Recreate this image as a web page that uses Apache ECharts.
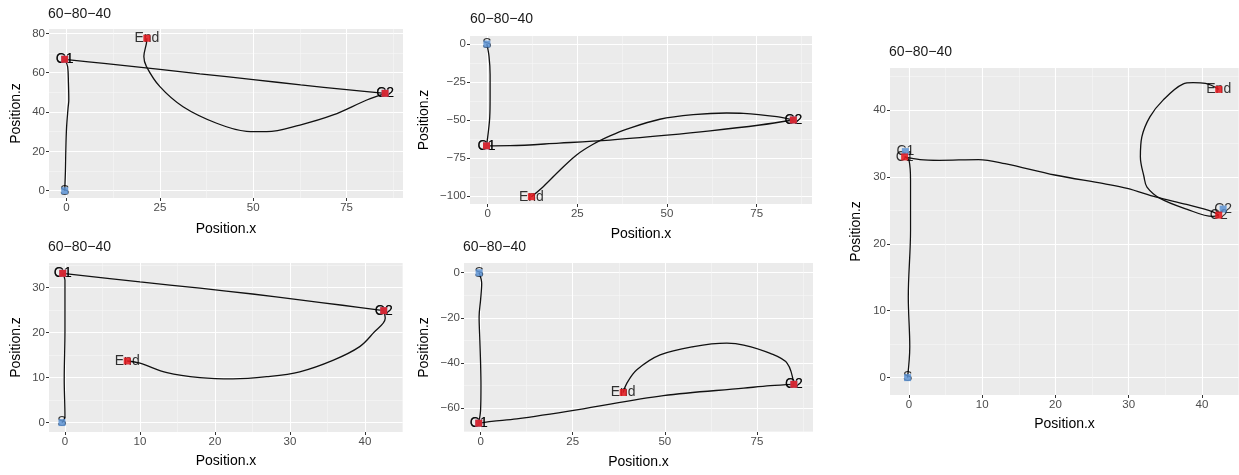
<!DOCTYPE html>
<html>
<head>
<meta charset="utf-8">
<script src="https://cdn.jsdelivr.net/npm/echarts@6/dist/echarts.min.js"></script>
<style>
  html, body { margin: 0; padding: 0; background: #ffffff; }
  #chart { width: 1239px; height: 475px; }
</style>
</head>
<body>
<div id="chart"></div>
<script>
// Trajectories in the x/z plane: S -> C1 -> C2 -> End, one path per run.
const runTitle = '60−80−40';

// Run 1
const path1 = [
  [[-0.5, 0], [-0.3, 10], [-0.2, 20], [0, 32], [0.4, 42], [0.6, 46], [0.5, 55], [0.3, 63], [-0.5, 66.8]],
  [[-0.5, 66.8], [10, 64.7], [25, 61.7], [35.7, 59.4], [50, 56.5], [62.7, 53.8], [75, 51.4], [85.3, 49.5]],
  [[85.3, 49.5], [80.4, 46.1], [71.4, 38.5], [62.5, 33.4], [53.6, 30], [48.2, 30.2], [40.2, 34.3], [31.2, 42.7], [25, 52.9], [21.4, 63.1], [20.7, 68.2], [21.4, 75], [21.5, 77.5]]
];
const targets1 = [['S', -0.5, 0], ['C1', -0.5, 66.8], ['C2', 85.3, 49.5]];
const reached1 = [['C1', -0.5, 66.8], ['C2', 85.3, 49.5], ['End', 21.5, 77.5]];
const xTicks1 = [0, 25, 50, 75];
const zTicks1 = [0, 20, 40, 60, 80];

// Run 2
const path2 = [
  [[-0.2, 0], [0.4, -8], [0.7, -20], [0.7, -35], [0.6, -48], [0.2, -58], [-0.3, -67]],
  [[-0.3, -67], [6.2, -66.9], [20, -65.2], [34.1, -63.2], [50, -60], [62, -57.2], [75.9, -53.3], [85.2, -50]],
  [[85.2, -50], [80.6, -47.8], [71.3, -45.6], [66.6, -45.4], [57.3, -46.5], [48, -49.5], [38.8, -56], [34.1, -60.5], [29.4, -66], [24.8, -73], [20.2, -82.9], [15.5, -93.9], [12.2, -100.5]]
];
const targets2 = [['S', -0.2, 0], ['C1', -0.3, -67], ['C2', 85.2, -50]];
const reached2 = [['C1', -0.3, -67], ['C2', 85.2, -50], ['End', 12.2, -100.5]];
const xTicks2 = [0, 25, 50, 75];
const zTicks2 = [0, -25, -50, -75, -100];

// Run 3
const path3 = [
  [[-0.4, 0], [0, 1.3], [-0.1, 9.5], [0, 20.6], [0, 31.7], [-0.3, 33.2]],
  [[-0.3, 33.2], [10, 31.3], [18, 29.9], [25, 28.6], [31.3, 27.3], [37, 26.1], [42.5, 24.9]],
  [[42.5, 24.9], [42.7, 23.2], [41.1, 19.9], [39.3, 16.9], [35.8, 13.9], [31.3, 11.3], [26.9, 10.2], [22.4, 9.7], [18, 10], [13.6, 11.1], [10, 13.2], [8.3, 13.7]]
];
const targets3 = [['S', -0.4, 0], ['C1', -0.3, 33.2], ['C2', 42.5, 24.9]];
const reached3 = [['C1', -0.3, 33.2], ['C2', 42.5, 24.9], ['End', 8.3, 13.7]];
const xTicks3 = [0, 10, 20, 30, 40];
const zTicks3 = [0, 10, 20, 30];

// Run 4
const path4 = [
  [[-0.4, 0], [0.3, -4.7], [0, -12], [-0.4, -19.5], [-0.2, -30], [0, -40.1], [0.1, -50], [0, -60.7], [-0.5, -66.6]],
  [[-0.5, -66.6], [3, -65.8], [9.8, -64.7], [26.1, -60.7], [49.6, -54.4], [71.4, -51.1], [78.6, -50], [85, -49.4]],
  [[85, -49.4], [83.2, -40.1], [78.6, -35.7], [71.4, -32], [66.8, -31.2], [57.8, -32.7], [48.7, -36.4], [42.4, -43], [39.7, -48.9], [38.7, -53]]
];
const targets4 = [['S', -0.4, 0], ['C1', -0.5, -66.6], ['C2', 85, -49.4]];
const reached4 = [['C1', -0.5, -66.6], ['C2', 85, -49.4], ['End', 38.7, -53]];
const xTicks4 = [0, 25, 50, 75];
const zTicks4 = [0, -20, -40, -60];

// Run 5
const path5 = [
  [[-0.2, 0], [0.1, 4.6], [-0.1, 12.1], [0.2, 22], [0.2, 29.5], [0, 32.5], [-0.6, 33]],
  [[-0.6, 33], [1.5, 32.6], [4.1, 32.5], [9.5, 32.6], [13.1, 32], [19.9, 30.3], [26.6, 29], [29.8, 28.3], [33.8, 27], [37.9, 25.9], [41.5, 24.8], [42.3, 24.3]],
  [[42.3, 24.3], [41.5, 24.1], [37.9, 25.2], [34.3, 26.8], [32.5, 28.5], [32.1, 30], [31.6, 33], [31.8, 36], [32.9, 39], [34.7, 41.5], [37.4, 43.9], [38.8, 44.1], [40.5, 44], [42.3, 43.1]]
];
const targets5 = [['S', -0.2, 0], ['C1', -0.5, 33.8], ['C2', 42.9, 25.2]];
const reached5 = [['C1', -0.6, 33], ['C2', 42.3, 24.3], ['End', 42.3, 43.1]];
const xTicks5 = [0, 10, 20, 30, 40];
const zTicks5 = [0, 10, 20, 30, 40];

// Panel placement and axis extents
const panels = [
  { path: path1, targets: targets1, reached: reached1, xTicks: xTicks1, zTicks: zTicks1,
    xRange: [-4.7, 90.1], zRange: [-3.7, 82.2], box: { left: 49, top: 29, width: 354, height: 169 },
    titleAt: [48, 7], xGap: 24, zGap: 26 },
  { path: path2, targets: targets2, reached: reached2, xTicks: xTicks2, zTicks: zTicks2,
    xRange: [-4.9, 90.4], zRange: [-105.3, 5.3], box: { left: 470, top: 36, width: 342, height: 168 },
    titleAt: [470, 12], xGap: 23, zGap: 39 },
  { path: path3, targets: targets3, reached: reached3, xTicks: xTicks3, zTicks: zTicks3,
    xRange: [-2.13, 45.07], zRange: [-2.1, 35.5], box: { left: 49, top: 263, width: 354, height: 169 },
    titleAt: [48, 240], xGap: 22, zGap: 26 },
  { path: path4, targets: targets4, reached: reached4, xTicks: xTicks4, zTicks: zTicks4,
    xRange: [-4.5, 90.2], zRange: [-70.5, 4.3], box: { left: 464, top: 263, width: 349, height: 169 },
    titleAt: [463, 240], xGap: 23, zGap: 33 },
  { path: path5, targets: targets5, reached: reached5, xTicks: xTicks5, zTicks: zTicks5,
    xRange: [-2.6, 45.07], zRange: [-2.6, 46.3], box: { left: 890, top: 68, width: 353, height: 327 },
    titleAt: [889, 45], xGap: 22, zGap: 27 }
];

const FONT = 'Liberation Sans, Arial, sans-serif';
const RED = '#e3191f';
const BLUE = '#5d93d3';

// Half-step positions between major ticks, inside the visible range
function minorOf(ticks, range) {
  const sorted = ticks.slice().sort((a, b) => a - b);
  const step = sorted[1] - sorted[0];
  const out = [];
  for (let v = sorted[0] - step * 4 + step / 2; v <= range[1]; v += step) {
    if (v >= range[0]) out.push(v);
  }
  return out;
}

const fmt = v => String(v).replace('-', '−');

const grid = [], xAxis = [], yAxis = [], title = [], series = [];

panels.forEach((p, i) => {
  grid.push(Object.assign({ show: true, backgroundColor: '#ebebeb', borderWidth: 0 }, p.box));
  title.push({
    text: runTitle, left: p.titleAt[0], top: p.titleAt[1], padding: 0,
    textStyle: { fontSize: 14, fontWeight: 'normal', color: '#1a1a1a', fontFamily: FONT }
  });

  const majorX = {
    gridIndex: i, type: 'value', min: p.xRange[0], max: p.xRange[1], position: 'bottom',
    axisLine: { show: false, onZero: false },
    axisTick: { show: true, length: 3, customValues: p.xTicks, lineStyle: { color: '#333', width: 1 } },
    axisLabel: { customValues: p.xTicks, margin: 4, color: '#4d4d4d', fontSize: 11.5, fontFamily: FONT, formatter: fmt },
    splitLine: { show: true, lineStyle: { color: '#ffffff', width: 1.1 } },
    name: 'Position.x', nameLocation: 'middle', nameGap: p.xGap,
    nameTextStyle: { color: '#000', fontSize: 14, fontFamily: FONT }
  };
  const minorXV = minorOf(p.xTicks, p.xRange);
  const minorX = {
    gridIndex: i, type: 'value', min: p.xRange[0], max: p.xRange[1], position: 'top',
    axisLine: { show: false, onZero: false },
    axisTick: { show: false, customValues: minorXV },
    axisLabel: { show: false, customValues: minorXV },
    splitLine: { show: true, lineStyle: { color: '#f7f7f7', width: 0.6 } }
  };
  const majorY = {
    gridIndex: i, type: 'value', min: p.zRange[0], max: p.zRange[1], position: 'left',
    axisLine: { show: false, onZero: false },
    axisTick: { show: true, length: 3, customValues: p.zTicks, lineStyle: { color: '#333', width: 1 } },
    axisLabel: { customValues: p.zTicks, margin: 4, color: '#4d4d4d', fontSize: 11.5, fontFamily: FONT, formatter: fmt },
    splitLine: { show: true, lineStyle: { color: '#ffffff', width: 1.1 } },
    name: 'Position.z', nameLocation: 'middle', nameGap: p.zGap,
    nameTextStyle: { color: '#000', fontSize: 14, fontFamily: FONT }
  };
  const minorZV = minorOf(p.zTicks, p.zRange);
  const minorY = {
    gridIndex: i, type: 'value', min: p.zRange[0], max: p.zRange[1], position: 'right',
    axisLine: { show: false, onZero: false },
    axisTick: { show: false, customValues: minorZV },
    axisLabel: { show: false, customValues: minorZV },
    splitLine: { show: true, lineStyle: { color: '#f7f7f7', width: 0.6 } }
  };
  xAxis.push(minorX, majorX);
  yAxis.push(minorY, majorY);
  const xi = 2 * i + 1, yi = 2 * i + 1;

  p.path.forEach(leg => {
    series.push({
      type: 'line', xAxisIndex: xi, yAxisIndex: yi, data: leg,
      symbol: 'none', smooth: 0.35, silent: true, z: 2,
      lineStyle: { color: '#111', width: 1.3 }
    });
  });

  const toPts = arr => arr.map(d => ({ name: d[0], value: [d[1], d[2]] }));

  series.push({
    type: 'scatter', xAxisIndex: xi, yAxisIndex: yi, z: 3, silent: true,
    data: toPts(p.targets.concat(p.reached)),
    symbolSize: 1, itemStyle: { color: 'rgba(0,0,0,0)' },
    label: { show: true, position: 'inside', formatter: '{b}', color: '#000', fontSize: 14, fontFamily: FONT }
  });
  series.push({
    type: 'scatter', xAxisIndex: xi, yAxisIndex: yi, z: 4, silent: true,
    data: toPts(p.targets), symbol: 'rect', symbolSize: 7,
    itemStyle: { color: BLUE, opacity: 0.85 }
  });
  series.push({
    type: 'scatter', xAxisIndex: xi, yAxisIndex: yi, z: 5, silent: true,
    data: toPts(p.reached), symbol: 'rect', symbolSize: 7,
    itemStyle: { color: RED, opacity: 0.88 }
  });
});

const chart = echarts.init(document.getElementById('chart'), null, { renderer: 'canvas' });
chart.setOption({
  animation: false,
  backgroundColor: '#ffffff',
  textStyle: { fontFamily: FONT },
  title, grid, xAxis, yAxis, series
});
</script>
</body>
</html>
